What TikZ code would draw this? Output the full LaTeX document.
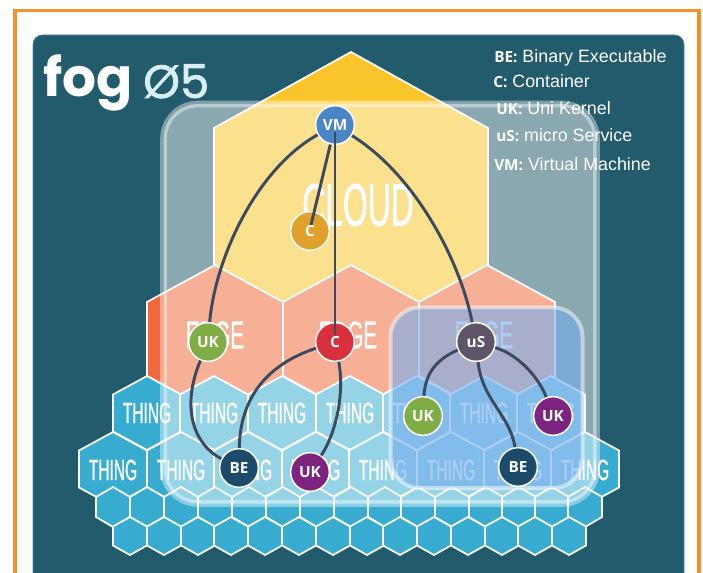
\documentclass[tikz,border=0pt]{standalone}
\usepackage{fontspec}
\setmainfont{Liberation Sans}
\newfontfamily\hexfont[FakeStretch=0.53,FakeBold=0.9]{Liberation Sans}
\newfontfamily\unitfont{Open Sans}
\newfontfamily\logofont{Poppins}
\newfontfamily\verfont[FakeBold=1.6]{Poppins}

\definecolor{frameorange}{HTML}{F7902B}
\definecolor{panelteal}{HTML}{225B6B}
\definecolor{cloudyellow}{HTML}{F9C52A}
\definecolor{edgeorange}{HTML}{F0693A}
\definecolor{thingblue}{HTML}{38ACD0}
\definecolor{wirecolor}{HTML}{3B4A5C}
\definecolor{vmblue}{HTML}{4A86C5}
\definecolor{cgold}{HTML}{E0A02C}
\definecolor{cred}{HTML}{D9303E}
\definecolor{ukgreen}{HTML}{7FAC45}
\definecolor{ukpurple}{HTML}{7D2380}
\definecolor{benavy}{HTML}{1B4A6B}
\definecolor{usgrey}{HTML}{5D5468}
\definecolor{usbox}{HTML}{76AEED}

\tikzset{
  cell/.style={draw=white, line width=1.3pt, line join=miter},
  unit/.style={draw=white, shape=circle, line width=1.1pt, minimum size=29pt, inner sep=0pt,
    text=white, font=\unitfont\bfseries\fontsize{11.5}{14}\selectfont},
  wire/.style={-, draw=wirecolor, line width=2.2pt},
  thingword/.style={text=white, font=\hexfont\fontsize{22}{24}\selectfont},
  edgeword/.style={text=white, font=\hexfont\fontsize{29}{31}\selectfont},
  keyline/.style={anchor=west, text=white, inner sep=0pt, font=\fontsize{13.4}{16}\selectfont},
}
\newcommand{\hexcell}[5]{
  \draw[cell, fill=#1] (#2,#3-#5) -- (#2+#4,#3-#5/2) -- (#2+#4,#3+#5/2) -- (#2,#3+#5)
    -- (#2-#4,#3+#5/2) -- (#2-#4,#3-#5/2) -- cycle;
}
\newcommand{\keyfont}[1]{{\unitfont\bfseries\fontsize{11.5}{14}\selectfont #1}}

\begin{document}
\begin{tikzpicture}[x=0.75pt, y=-0.75pt]
\clip (0,0) rectangle (703,573);

% frame and panel
\draw[frameorange, line width=2.4pt] (15,10.5) rectangle (699,620);
\draw[fill=panelteal, draw=vmblue, line width=0.5pt, rounded corners=7pt] (33,35) rectangle (684,620);

\node[anchor=base west, inner sep=0pt, text=white, font=\logofont\bfseries\fontsize{40}{42}\selectfont] (fog) at (43,97) {fog};
\node[anchor=base west, inner sep=0pt, text=white!80!thingblue, font=\verfont\fontsize{35}{37}\selectfont] (ver) at (143,98) {Ø5};

% key
\node[keyline] (k1) at (494,58) {\keyfont{BE:} Binary Executable};
\node[keyline] (k2) at (493,81) {\keyfont{C:} Container};
\node[keyline] (k3) at (496,108) {\keyfont{UK:} Uni Kernel};
\node[keyline] (k4) at (496,135) {\keyfont{uS:} micro Service};
\node[keyline] (k5) at (494,164) {\keyfont{VM:} Virtual Machine};

% hexagons
\draw[cell, fill=cloudyellow] (351,52) -- (488,128) -- (488,265) -- (351,342) -- (214,265) -- (214,128) -- cycle;
\foreach \x in {215,351,487} {
  \draw[cell, fill=edgeorange] (\x,265) -- (\x+68,302) -- (\x+68,376) -- (\x,413) -- (\x-68,376) -- (\x-68,302) -- cycle;
}
\foreach \x in {147,214,282,350,417,484,551} {
  \hexcell{thingblue}{\x}{413}{34}{37}
}
\foreach \x in {113,181,248,316,383,451,518,585} {
  \hexcell{thingblue}{\x}{469}{34}{37}
}
\foreach \x in {113,147,181,215,249,283,317,351,385,418,452,486,519,552,585} {
  \hexcell{thingblue}{\x}{507}{17}{20}
}
\foreach \x in {130,164,198,231,265,299,333,367,400,434,468,502,535,569} {
  \hexcell{thingblue}{\x}{536}{17}{19}
}

\node[text=white, font=\hexfont\fontsize{45}{48}\selectfont] (cloud) at (358,205) {CLOUD};
\foreach \x in {215,348,484} {
  \node[edgeword] (e\x) at (\x,335) {EDGE};
}
\foreach \x in {147,214,282,350,417,484,551} {
  \node[thingword] (t\x) at (\x,413) {THING};
}
\foreach \x in {113,181,248,316,383,451,518,585} {
  \node[thingword] (b\x) at (\x,470) {THING};
}

% overlays
\draw[draw=white, fill=white, fill opacity=0.47, draw opacity=0.42, line width=5pt, rounded corners=26pt] (163.5,104) rectangle (596.5,503.5);
\draw[draw=white, fill=usbox, fill opacity=0.6, draw opacity=0.5, line width=3pt, rounded corners=22pt] (390.5,307.5) rectangle (582.5,488);

% units
\node[unit, fill=vmblue] (vm) at (335,125) {VM};
\node[unit, fill=cgold] (c1) at (310,231) {C};
\node[unit, fill=ukgreen] (uk1) at (208,342) {UK};
\node[unit, fill=cred] (c2) at (335,342) {C};
\node[unit, fill=usgrey] (us) at (476,342) {uS};
\node[unit, fill=ukgreen] (uk2) at (423,416) {UK};
\node[unit, fill=ukpurple] (uk3) at (553,416) {UK};
\node[unit, fill=benavy] (be1) at (239,468) {BE};
\node[unit, fill=ukpurple] (uk4) at (310,472) {UK};
\node[unit, fill=benavy] (be2) at (518,467) {BE};

% connectors
\coordinate (vmfoot) at (335,132);
\coordinate (c1top) at (311,225);
\coordinate (c2top) at (335,335);
\draw[wire] (vm) to (c1top);
\draw[wire] (vmfoot) to (c2top);
\draw[wire] (vm) .. controls (255,170) and (215,260) .. (uk1);
\draw[wire] (vm) .. controls (415,175) and (460,260) .. (us);
\draw[wire] (uk1) .. controls (180,410) and (195,445) .. (be1);
\draw[wire] (c2) .. controls (265,365) and (240,400) .. (be1);
\draw[wire] (c2) .. controls (345,395) and (335,435) .. (uk4);
\draw[wire] (us) .. controls (435,360) and (425,375) .. (uk2);
\draw[wire] (us) .. controls (520,355) and (540,380) .. (uk3);
\draw[wire] (us) .. controls (482,400) and (510,415) .. (be2);
\end{tikzpicture}
\end{document}
